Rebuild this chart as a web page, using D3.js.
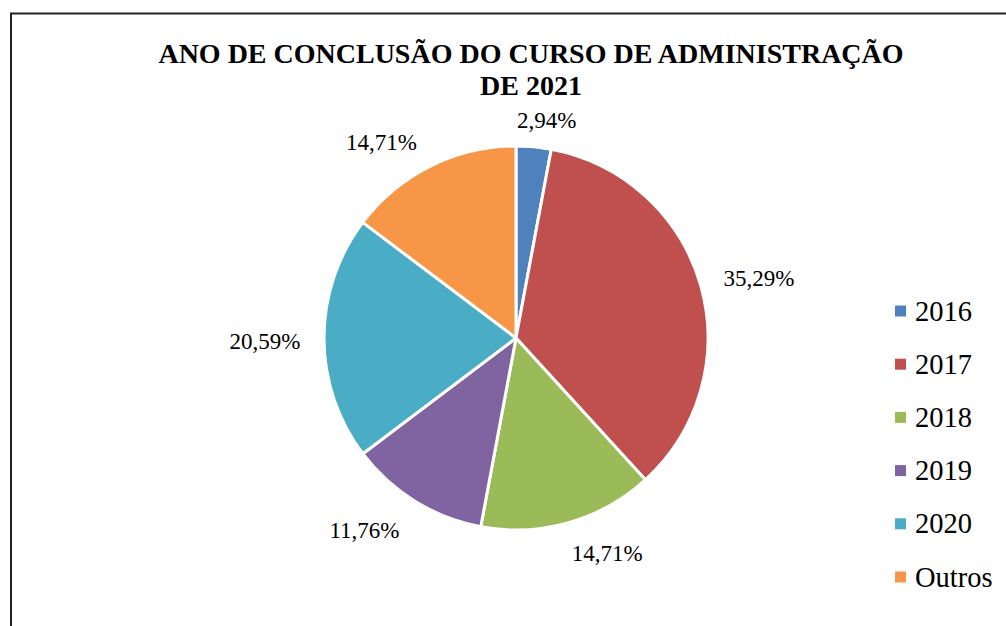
<!DOCTYPE html>
<html>
<head>
<meta charset="utf-8">
<script src="https://cdn.jsdelivr.net/npm/d3@7"></script>
<style>
  body { margin: 0; background: #fff; }
  svg text { font-family: "Liberation Serif", "Times New Roman", Times, serif; }
</style>
</head>
<body>
<svg id="chart" width="1006" height="626"></svg>
<script>
const categories = ["2016", "2017", "2018", "2019", "2020", "Outros"];
const percents = [2.94, 35.29, 14.71, 11.76, 20.59, 14.71];
const colors = ["#4F81BD", "#C0504D", "#9BBB59", "#8064A2", "#4BACC6", "#F79646"];
const titleLines = ["ANO DE CONCLUSÃO DO CURSO DE ADMINISTRAÇÃO", "DE 2021"];

const serif = "'Liberation Serif', 'Times New Roman', Times, serif";

let svg = d3.select("#chart");
let data = categories.map(function (c, i) { return { name: c, value: percents[i] }; });

// chart frame (runs off the right and bottom edges)
svg.append("rect")
    .attr("x", 11).attr("y", 13.5)
    .attr("width", 1100).attr("height", 1000)
    .attr("fill", "none")
    .attr("stroke", "#222")
    .attr("stroke-width", 2);

// title
svg.append("text")
    .attr("x", 531).attr("y", 63)
    .attr("text-anchor", "middle")
    .attr("font-family", serif)
    .attr("font-size", 28).attr("font-weight", "bold")
    .selectAll("tspan")
    .data(titleLines)
    .join("tspan")
    .attr("x", 531)
    .attr("dy", function (d, i) { return i ? 32 : 0; })
    .text(function (d) { return d; });

let cx = 516, cy = 338, r = 192;
let color = d3.scaleOrdinal().domain(categories).range(colors);

let pie = d3.pie().sort(null).value(function (d) { return d.value; });
let arc = d3.arc().innerRadius(0).outerRadius(r);
let arcs = pie(data);

let g = svg.append("g").attr("transform", "translate(" + cx + "," + cy + ")");

g.selectAll("path")
    .data(arcs)
    .join("path")
    .attr("d", arc)
    .attr("fill", function (d) { return color(d.data.name); })
    .attr("stroke", "#fff")
    .attr("stroke-width", 3)
    .attr("stroke-linejoin", "round");

// outside-end labels: push the label box off the rim along the mid angle
let fmt = function (v) { return v.toFixed(2).replace(".", ",") + "%"; };
let labelW = 82, labelH = 22, gap = 18;
let clamp = function (v) { return Math.max(-1, Math.min(1, v)); };
g.selectAll("text.lbl")
    .data(arcs)
    .join("text")
    .attr("class", "lbl")
    .attr("font-family", serif)
    .attr("font-size", 23)
    .attr("text-anchor", "middle")
    .attr("dominant-baseline", "central")
    .attr("x", function (d) {
        let s = Math.sin((d.startAngle + d.endAngle) / 2);
        return (r + gap) * s + labelW / 2 * clamp(s * 3);
    })
    .attr("y", function (d) {
        let c = -Math.cos((d.startAngle + d.endAngle) / 2);
        return (r + gap) * c + labelH / 2 * clamp(c * 1.5) + 3;
    })
    .text(function (d) { return fmt(d.data.value); });

// legend
let ly = d3.scalePoint().domain(categories).range([311, 577]);
let legend = svg.append("g");
let item = legend.selectAll("g")
    .data(categories)
    .join("g")
    .attr("transform", function (d) { return "translate(895," + ly(d) + ")"; });

item.append("rect")
    .attr("x", 0).attr("y", -5.5)
    .attr("width", 11).attr("height", 11)
    .attr("fill", function (d) { return color(d); });

item.append("text")
    .attr("x", 20).attr("y", 0)
    .attr("dominant-baseline", "central")
    .attr("font-family", serif)
    .attr("font-size", 28.5)
    .text(function (d) { return d; });
</script>
</body>
</html>
